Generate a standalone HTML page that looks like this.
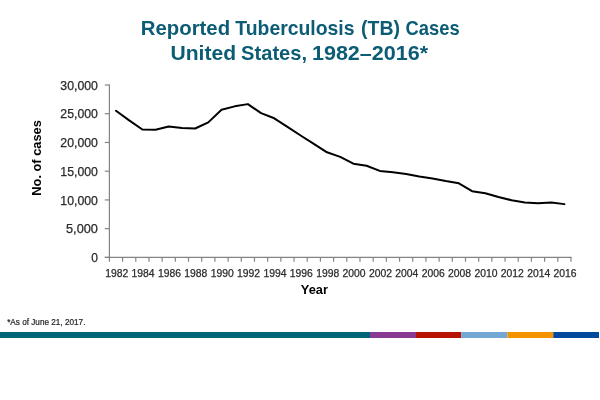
<!DOCTYPE html>
<html><head><meta charset="utf-8"><style>
html,body{margin:0;padding:0;background:#fff;width:600px;height:400px;overflow:hidden}
svg{display:block;will-change:transform}
text{font-family:"Liberation Sans",sans-serif}
.yl{font-size:12px;fill:#2b2b2b;stroke:#2b2b2b;stroke-width:0.25px}
.xl{font-size:10.2px;fill:#2b2b2b;stroke:#2b2b2b;stroke-width:0.25px}
.at{font-size:13.6px;font-weight:bold;fill:#000}
.ti{font-size:20.8px;font-weight:bold;fill:#0B5C74}
.fn{font-size:8.6px;fill:#1e1e1e;stroke:#1e1e1e;stroke-width:0.2px}
</style></head><body>
<svg width="600" height="400" viewBox="0 0 600 400">
<g stroke="#848484" stroke-width="1.2">
<line x1="109.4" y1="84.5" x2="109.4" y2="257.4"/>
<line x1="104.80000000000001" y1="257.4" x2="571.6" y2="257.4"/>
<line x1="104.80000000000001" y1="257.40" x2="109.4" y2="257.40"/>
<line x1="104.80000000000001" y1="228.67" x2="109.4" y2="228.67"/>
<line x1="104.80000000000001" y1="199.93" x2="109.4" y2="199.93"/>
<line x1="104.80000000000001" y1="171.20" x2="109.4" y2="171.20"/>
<line x1="104.80000000000001" y1="142.47" x2="109.4" y2="142.47"/>
<line x1="104.80000000000001" y1="113.73" x2="109.4" y2="113.73"/>
<line x1="104.80000000000001" y1="85.00" x2="109.4" y2="85.00"/>
<line x1="109.40" y1="257.4" x2="109.40" y2="261.7"/>
<line x1="122.59" y1="257.4" x2="122.59" y2="261.7"/>
<line x1="135.78" y1="257.4" x2="135.78" y2="261.7"/>
<line x1="148.97" y1="257.4" x2="148.97" y2="261.7"/>
<line x1="162.15" y1="257.4" x2="162.15" y2="261.7"/>
<line x1="175.34" y1="257.4" x2="175.34" y2="261.7"/>
<line x1="188.53" y1="257.4" x2="188.53" y2="261.7"/>
<line x1="201.72" y1="257.4" x2="201.72" y2="261.7"/>
<line x1="214.91" y1="257.4" x2="214.91" y2="261.7"/>
<line x1="228.10" y1="257.4" x2="228.10" y2="261.7"/>
<line x1="241.29" y1="257.4" x2="241.29" y2="261.7"/>
<line x1="254.47" y1="257.4" x2="254.47" y2="261.7"/>
<line x1="267.66" y1="257.4" x2="267.66" y2="261.7"/>
<line x1="280.85" y1="257.4" x2="280.85" y2="261.7"/>
<line x1="294.04" y1="257.4" x2="294.04" y2="261.7"/>
<line x1="307.23" y1="257.4" x2="307.23" y2="261.7"/>
<line x1="320.42" y1="257.4" x2="320.42" y2="261.7"/>
<line x1="333.61" y1="257.4" x2="333.61" y2="261.7"/>
<line x1="346.79" y1="257.4" x2="346.79" y2="261.7"/>
<line x1="359.98" y1="257.4" x2="359.98" y2="261.7"/>
<line x1="373.17" y1="257.4" x2="373.17" y2="261.7"/>
<line x1="386.36" y1="257.4" x2="386.36" y2="261.7"/>
<line x1="399.55" y1="257.4" x2="399.55" y2="261.7"/>
<line x1="412.74" y1="257.4" x2="412.74" y2="261.7"/>
<line x1="425.93" y1="257.4" x2="425.93" y2="261.7"/>
<line x1="439.11" y1="257.4" x2="439.11" y2="261.7"/>
<line x1="452.30" y1="257.4" x2="452.30" y2="261.7"/>
<line x1="465.49" y1="257.4" x2="465.49" y2="261.7"/>
<line x1="478.68" y1="257.4" x2="478.68" y2="261.7"/>
<line x1="491.87" y1="257.4" x2="491.87" y2="261.7"/>
<line x1="505.06" y1="257.4" x2="505.06" y2="261.7"/>
<line x1="518.25" y1="257.4" x2="518.25" y2="261.7"/>
<line x1="531.43" y1="257.4" x2="531.43" y2="261.7"/>
<line x1="544.62" y1="257.4" x2="544.62" y2="261.7"/>
<line x1="557.81" y1="257.4" x2="557.81" y2="261.7"/>
<line x1="571.00" y1="257.4" x2="571.00" y2="261.7"/>
</g>
<text x="97.87" y="262.00" text-anchor="end" class="yl">0</text>
<text x="97.87" y="233.27" text-anchor="end" class="yl" textLength="31.819" lengthAdjust="spacingAndGlyphs">5,000</text>
<text x="97.87" y="204.53" text-anchor="end" class="yl" textLength="37.554" lengthAdjust="spacingAndGlyphs">10,000</text>
<text x="97.87" y="175.80" text-anchor="end" class="yl" textLength="37.554" lengthAdjust="spacingAndGlyphs">15,000</text>
<text x="97.87" y="147.07" text-anchor="end" class="yl" textLength="37.554" lengthAdjust="spacingAndGlyphs">20,000</text>
<text x="97.87" y="118.33" text-anchor="end" class="yl" textLength="37.554" lengthAdjust="spacingAndGlyphs">25,000</text>
<text x="97.87" y="89.60" text-anchor="end" class="yl" textLength="37.554" lengthAdjust="spacingAndGlyphs">30,000</text>
<text x="116.69" y="276.6" text-anchor="middle" class="xl" textLength="23.059" lengthAdjust="spacingAndGlyphs">1982</text>
<text x="143.07" y="276.6" text-anchor="middle" class="xl" textLength="23.059" lengthAdjust="spacingAndGlyphs">1984</text>
<text x="169.45" y="276.6" text-anchor="middle" class="xl" textLength="23.059" lengthAdjust="spacingAndGlyphs">1986</text>
<text x="195.83" y="276.6" text-anchor="middle" class="xl" textLength="23.059" lengthAdjust="spacingAndGlyphs">1988</text>
<text x="222.20" y="276.6" text-anchor="middle" class="xl" textLength="23.059" lengthAdjust="spacingAndGlyphs">1990</text>
<text x="248.58" y="276.6" text-anchor="middle" class="xl" textLength="23.059" lengthAdjust="spacingAndGlyphs">1992</text>
<text x="274.96" y="276.6" text-anchor="middle" class="xl" textLength="23.059" lengthAdjust="spacingAndGlyphs">1994</text>
<text x="301.33" y="276.6" text-anchor="middle" class="xl" textLength="23.059" lengthAdjust="spacingAndGlyphs">1996</text>
<text x="327.71" y="276.6" text-anchor="middle" class="xl" textLength="23.059" lengthAdjust="spacingAndGlyphs">1998</text>
<text x="354.09" y="276.6" text-anchor="middle" class="xl" textLength="23.059" lengthAdjust="spacingAndGlyphs">2000</text>
<text x="380.47" y="276.6" text-anchor="middle" class="xl" textLength="23.059" lengthAdjust="spacingAndGlyphs">2002</text>
<text x="406.84" y="276.6" text-anchor="middle" class="xl" textLength="23.059" lengthAdjust="spacingAndGlyphs">2004</text>
<text x="433.22" y="276.6" text-anchor="middle" class="xl" textLength="23.059" lengthAdjust="spacingAndGlyphs">2006</text>
<text x="459.60" y="276.6" text-anchor="middle" class="xl" textLength="23.059" lengthAdjust="spacingAndGlyphs">2008</text>
<text x="485.97" y="276.6" text-anchor="middle" class="xl" textLength="23.059" lengthAdjust="spacingAndGlyphs">2010</text>
<text x="512.35" y="276.6" text-anchor="middle" class="xl" textLength="23.059" lengthAdjust="spacingAndGlyphs">2012</text>
<text x="538.73" y="276.6" text-anchor="middle" class="xl" textLength="23.059" lengthAdjust="spacingAndGlyphs">2014</text>
<text x="565.11" y="276.6" text-anchor="middle" class="xl" textLength="23.059" lengthAdjust="spacingAndGlyphs">2016</text>
<polyline points="115.99,110.75 129.18,120.36 142.37,129.51 155.56,129.82 168.75,126.56 181.94,128.00 195.13,128.47 208.31,122.38 221.50,109.70 234.69,106.36 247.88,104.12 261.07,113.15 274.26,118.30 287.45,126.80 300.63,135.51 313.82,143.90 327.01,152.31 340.20,156.84 353.39,163.68 366.58,165.77 379.77,170.88 392.95,172.15 406.14,174.08 419.33,176.58 432.52,178.51 445.71,181.07 458.90,183.31 472.09,191.18 485.27,193.27 498.46,197.01 511.65,200.27 524.84,202.50 538.03,203.35 551.22,202.54 564.41,204.12" fill="none" stroke="#000" stroke-width="2" stroke-linejoin="round" stroke-linecap="round"/>
<text x="300.852" y="293.9" class="at" textLength="27.108" lengthAdjust="spacingAndGlyphs">Year</text>
<text transform="translate(41.3,195.7) rotate(-90)" x="0" y="0" class="at" textLength="75.543" lengthAdjust="spacingAndGlyphs">No. of cases</text>
<text x="140.762" y="35.3" class="ti" textLength="89.339" lengthAdjust="spacingAndGlyphs">Reported</text>
<text x="235.363" y="35.3" class="ti" textLength="119.102" lengthAdjust="spacingAndGlyphs">Tuberculosis</text>
<text x="361.0" y="35.3" class="ti" textLength="38.961" lengthAdjust="spacingAndGlyphs">(TB)</text>
<text x="405.532" y="35.3" class="ti" textLength="54.073" lengthAdjust="spacingAndGlyphs">Cases</text>
<text x="170.513" y="60.3" class="ti" textLength="65.605" lengthAdjust="spacingAndGlyphs">United</text>
<text x="241.108" y="60.3" class="ti" textLength="65.93" lengthAdjust="spacingAndGlyphs">States,</text>
<text x="311.91" y="60.3" class="ti" textLength="116.269" lengthAdjust="spacingAndGlyphs">1982–2016*</text>
<text x="7.144" y="324.8" class="fn" textLength="78.272" lengthAdjust="spacingAndGlyphs">*As of June 21, 2017.</text>
<rect x="0" y="332" width="370.0" height="6" fill="#006577"/>
<rect x="370" y="332" width="46.0" height="6" fill="#8B3A93"/>
<rect x="416" y="332" width="45.3" height="6" fill="#B81200"/>
<rect x="461.3" y="332" width="46.2" height="6" fill="#74A8D4"/>
<rect x="507.5" y="332" width="45.8" height="6" fill="#F59200"/>
<rect x="553.3" y="332" width="45.7" height="6" fill="#00489C"/>
</svg>
</body></html>
